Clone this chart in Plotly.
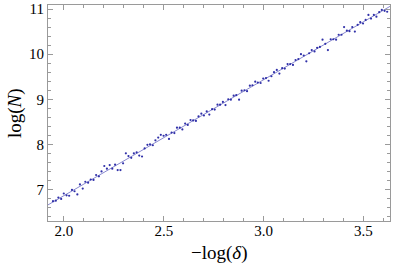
import numpy as np
import plotly.graph_objects as go

neg_log_delta = [1.945, 1.959, 1.972, 1.986, 1.999, 2.013, 2.026, 2.040, 2.053, 2.067,
                 2.080, 2.094, 2.107, 2.121, 2.134, 2.148, 2.161, 2.175, 2.188, 2.202,
                 2.215, 2.229, 2.242, 2.256, 2.269, 2.283, 2.296, 2.310, 2.323, 2.337,
                 2.350, 2.364, 2.377, 2.391, 2.404, 2.418, 2.431, 2.445, 2.458, 2.472,
                 2.485, 2.499, 2.512, 2.526, 2.539, 2.553, 2.566, 2.580, 2.593, 2.607,
                 2.620, 2.634, 2.647, 2.661, 2.674, 2.688, 2.701, 2.715, 2.728, 2.742,
                 2.755, 2.769, 2.782, 2.796, 2.809, 2.823, 2.836, 2.850, 2.863, 2.877,
                 2.890, 2.904, 2.917, 2.931, 2.944, 2.958, 2.971, 2.985, 2.998, 3.012,
                 3.025, 3.039, 3.052, 3.066, 3.079, 3.093, 3.106, 3.120, 3.133, 3.147,
                 3.160, 3.174, 3.187, 3.201, 3.214, 3.228, 3.241, 3.255, 3.268, 3.282,
                 3.295, 3.309, 3.322, 3.336, 3.349, 3.363, 3.376, 3.390, 3.403, 3.417,
                 3.430, 3.444, 3.457, 3.471, 3.484, 3.498, 3.511, 3.525, 3.538, 3.552,
                 3.565, 3.579, 3.592, 3.606, 3.619]
log_N = [6.74, 6.75, 6.82, 6.79, 6.91, 6.87, 6.86, 6.99, 6.96, 6.89,
         7.11, 7.02, 7.17, 7.15, 7.22, 7.21, 7.32, 7.29, 7.40, 7.52,
         7.46, 7.54, 7.46, 7.55, 7.43, 7.43, 7.58, 7.80, 7.74, 7.70,
         7.80, 7.82, 7.75, 7.73, 7.91, 7.99, 8.00, 7.98, 8.09, 8.15,
         8.21, 8.19, 8.21, 8.12, 8.26, 8.25, 8.37, 8.37, 8.33, 8.46,
         8.43, 8.54, 8.53, 8.52, 8.62, 8.68, 8.64, 8.73, 8.66, 8.78,
         8.77, 8.88, 8.88, 8.94, 8.87, 9.00, 8.99, 9.08, 9.09, 8.99,
         9.19, 9.20, 9.18, 9.30, 9.31, 9.39, 9.37, 9.36, 9.46, 9.47,
         9.41, 9.51, 9.60, 9.65, 9.57, 9.69, 9.68, 9.78, 9.78, 9.76,
         9.87, 9.89, 10.00, 9.97, 9.84, 10.02, 10.09, 10.06, 10.14, 10.16,
         10.32, 10.23, 10.09, 10.33, 10.33, 10.32, 10.43, 10.43, 10.60, 10.52,
         10.51, 10.60, 10.50, 10.65, 10.71, 10.68, 10.76, 10.87, 10.79, 10.87,
         10.83, 10.93, 10.98, 10.96, 10.94]

x_range = [1.92, 3.633]
y_range = [6.30, 11.09]

slope, intercept = np.polyfit(neg_log_delta, log_N, 1)
line_x = np.array(x_range)
line_y = intercept + slope * line_x

serif = "Liberation Serif, Times New Roman, serif"
frame = "#9a9a9a"

fig = go.Figure()
fig.add_trace(go.Scatter(x=line_x, y=line_y, mode="lines",
                         line=dict(color="#8a8ad0", width=1), hoverinfo="skip"))
fig.add_trace(go.Scatter(x=neg_log_delta, y=log_N, mode="markers",
                         marker=dict(color="#3030a8", size=2.2, line=dict(width=0))))

axis_common = dict(showgrid=False, zeroline=False, showline=True, linecolor=frame,
                   linewidth=1, mirror="allticks", ticks="inside", tickcolor=frame,
                   ticklen=5, tickwidth=1, automargin=False,
                   tickfont=dict(size=15, color="black"))

fig.update_xaxes(range=x_range, tickvals=[2.0, 2.5, 3.0, 3.5],
                 ticktext=["2.0", "2.5", "3.0", "3.5"], ticklabelstandoff=-4,
                 minor=dict(dtick=0.1, tick0=2.0, ticks="inside", ticklen=3,
                            tickcolor=frame, tickwidth=1, showgrid=False),
                 **axis_common)
fig.update_yaxes(range=y_range, tickvals=[7, 8, 9, 10, 11],
                 minor=dict(dtick=0.2, tick0=7, ticks="inside", ticklen=3,
                            tickcolor=frame, tickwidth=1, showgrid=False),
                 **axis_common)

fig.add_annotation(text="\u2212log(<i>\u03b4</i>)", xref="paper", yref="paper",
                   x=0.5, y=-0.148, yanchor="middle", showarrow=False,
                   font=dict(size=19, color="black"))
fig.add_annotation(text="log(<i>N</i>)", xref="paper", yref="paper",
                   x=-0.0965, y=0.5, xanchor="center", yanchor="middle",
                   textangle=-90, showarrow=False,
                   font=dict(size=19, color="black"))

fig.update_layout(width=396, height=269, margin=dict(l=48, r=6, t=5, b=48),
                  font=dict(family=serif, color="black"),
                  plot_bgcolor="white", paper_bgcolor="white", showlegend=False)

fig.write_html("out.html", config={"displayModeBar": False},
               post_script="document.body.style.margin='0';")
